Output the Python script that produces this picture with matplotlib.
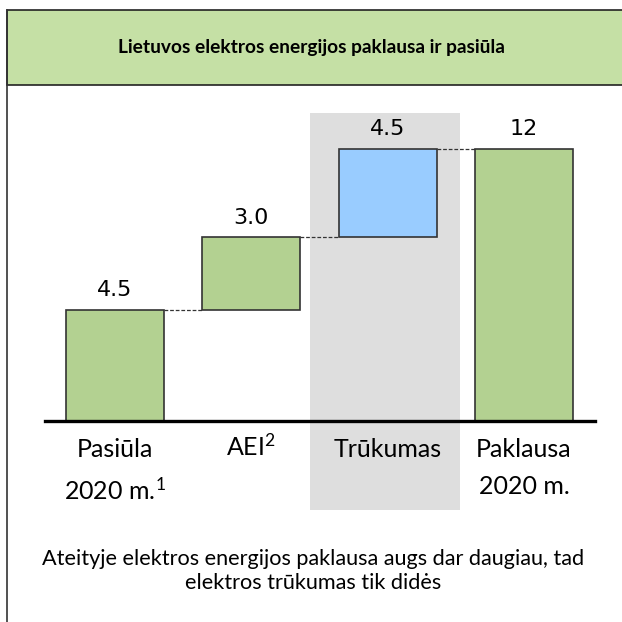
"""
Lietuvos elektros energijos paklausa ir pasiula - waterfall
"""
import matplotlib
matplotlib.use('Agg')
import matplotlib.pyplot as plt
from matplotlib.patches import Rectangle
from matplotlib.lines import Line2D

plt.rcParams['mathtext.fontset'] = 'custom'
plt.rcParams['mathtext.rm'] = 'Lato'
plt.rcParams['mathtext.default'] = 'rm'

# values shown on the bars and bar heights as drawn in the picture
categories = ['Pasiūla\n2020 m.$^{1}$', 'AEI$^{2}$', 'Trūkumas', 'Paklausa\n2020 m.']
value_labels = ['4.5', '3.0', '4.5', '12']
heights = [4.9, 3.2, 3.9, 12.0]
bar_colors = ['#b3d191', '#b3d191', '#99ccff', '#b3d191']
title = 'Lietuvos elektros energijos paklausa ir pasiūla'
note = 'Ateityje elektros energijos paklausa augs dar daugiau, tad\nelektros trūkumas tik didės'

W = 622
fig = plt.figure(figsize=(6.22, 6.22), dpi=100)

def fx(px):
    return px / W

def fy(px):
    return 1 - px / W

# title box
fig.patches.append(Rectangle((fx(7), fy(85)), 1 - fx(7) + 0.01, fy(10) - fy(85),
                             transform=fig.transFigure, facecolor='#c5e0a5',
                             edgecolor='#222222', linewidth=1.2, zorder=0))
fig.lines.append(Line2D([fx(7), fx(7)], [0, fy(10)], transform=fig.transFigure,
                        color='#333333', linewidth=1.2))
fig.text(fx(311), fy(48), title, ha='center', va='center', fontsize=13.8,
         fontweight='bold', family='Lato')

# bar axes: left 45px, right 595px, bottom 421px, top 100px
ax = fig.add_axes([fx(45), fy(421), fx(595) - fx(45), fy(100) - fy(421)])
spacing = 136.33
ax.set_xlim(-(115 - 45) / spacing, 3 + (595 - 524) / spacing)
ax.set_ylim(0, 321 / 22.67)
ax.axis('off')

# grey highlight behind the gap bar
ax.add_patch(Rectangle(((310 - 115) / spacing, -(510 - 421) / 22.67),
                       150 / spacing, (510 - 113) / 22.67,
                       facecolor='#dedede', edgecolor='none', clip_on=False, zorder=0))

bottoms = [0, heights[0], heights[0] + heights[1], 0]
width = 0.72
x = list(range(len(categories)))
ax.bar(x, heights, width=width, bottom=bottoms, color=bar_colors,
       edgecolor='#333333', linewidth=1.2, zorder=2)

# dashed connectors
for i in range(len(x) - 1):
    level = bottoms[i] + heights[i]
    ax.plot([x[i] + width / 2, x[i + 1] - width / 2], [level, level],
            ls=(0, (3, 1.5)), color='#333333', lw=0.9, zorder=3)

ax.axhline(0, color='black', lw=2.4, zorder=4, clip_on=False)

for xi, b, h, lab in zip(x, bottoms, heights, value_labels):
    ax.annotate(lab, (xi, b + h), xytext=(0, 7), textcoords='offset points',
                ha='center', va='bottom', fontsize=16, family='DejaVu Sans')

# superscript-only label sits a little low with va='top'
for xi, cat in zip(x, categories):
    dy = -8.5 if cat.startswith('AEI') else -12
    ax.annotate(cat, (xi, 0), xytext=(0, dy), textcoords='offset points',
                ha='center', va='top', fontsize=18, family='Lato', linespacing=1.75)

fig.text(fx(313), fy(571), note, ha='center', va='center', fontsize=15.6,
         family='Lato', linespacing=1.3)

fig.savefig('out.png', dpi=100)
